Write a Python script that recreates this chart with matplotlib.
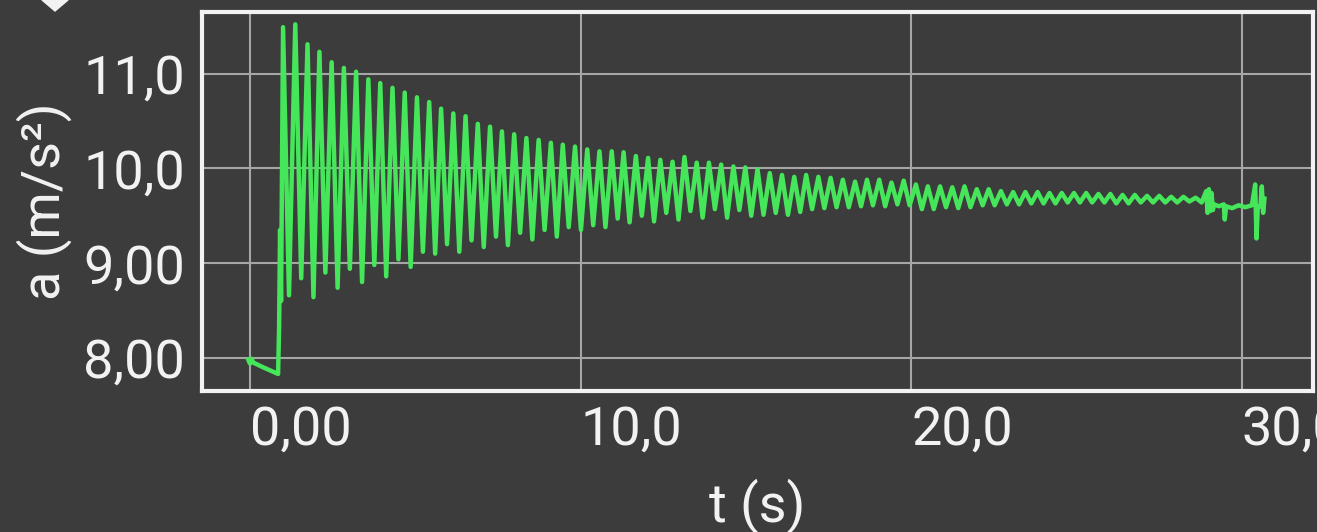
import matplotlib.pyplot as plt
from matplotlib.patches import Polygon

plt.rcParams['font.family'] = ['Roboto', 'DejaVu Sans']

# resting phase before release
start_t = [-0.05, 0.00, 0.05, 0.10, 0.40, 0.85, 0.88, 0.91, 0.94]
start_a = [7.98, 7.94, 7.99, 7.95, 7.90, 7.83, 8.30, 9.35, 8.60]

# oscillation maxima
peak_t = [1.00, 1.37, 1.74, 2.10, 2.47, 2.84, 3.21, 3.58, 3.94, 4.31,
          4.68, 5.05, 5.42, 5.78, 6.15, 6.52, 6.89, 7.26, 7.62, 7.99,
          8.36, 8.73, 9.10, 9.46, 9.83, 10.20, 10.57, 10.94, 11.30, 11.67,
          12.04, 12.41, 12.78, 13.14, 13.51, 13.88, 14.25, 14.62, 14.98, 15.35,
          15.72, 16.09, 16.46, 16.82, 17.19, 17.56, 17.93, 18.30, 18.66, 19.03,
          19.40, 19.77, 20.14, 20.50, 20.87, 21.24, 21.61, 21.98, 22.34, 22.71,
          23.08, 23.45, 23.82, 24.18, 24.55, 24.92, 25.29, 25.66, 26.02, 26.39,
          26.76, 27.13, 27.50, 27.86, 28.23, 28.60]
peak_a = [11.49, 11.52, 11.31, 11.23, 11.12, 11.06, 11.02, 10.94, 10.90, 10.85,
          10.80, 10.75, 10.70, 10.63, 10.58, 10.55, 10.47, 10.44, 10.39, 10.36,
          10.32, 10.30, 10.27, 10.25, 10.23, 10.20, 10.18, 10.18, 10.17, 10.13,
          10.11, 10.09, 10.07, 10.12, 10.06, 10.06, 10.04, 10.02, 10.01, 9.99,
          9.95, 9.93, 9.91, 9.93, 9.91, 9.90, 9.88, 9.86, 9.88, 9.88,
          9.85, 9.87, 9.83, 9.81, 9.81, 9.80, 9.81, 9.78, 9.78, 9.76,
          9.75, 9.75, 9.75, 9.74, 9.74, 9.74, 9.74, 9.73, 9.73, 9.72,
          9.72, 9.71, 9.71, 9.70, 9.70, 9.69]

# oscillation minima (one after each maximum)
trough_t = [1.18, 1.55, 1.92, 2.28, 2.65, 3.02, 3.39, 3.76, 4.12, 4.49,
            4.86, 5.23, 5.60, 5.96, 6.33, 6.70, 7.07, 7.44, 7.80, 8.17,
            8.54, 8.91, 9.28, 9.64, 10.01, 10.38, 10.75, 11.12, 11.48, 11.85,
            12.22, 12.59, 12.96, 13.32, 13.69, 14.06, 14.43, 14.80, 15.16, 15.53,
            15.90, 16.27, 16.64, 17.00, 17.37, 17.74, 18.11, 18.48, 18.84, 19.21,
            19.58, 19.95, 20.32, 20.68, 21.05, 21.42, 21.79, 22.16, 22.52, 22.89,
            23.26, 23.63, 24.00, 24.36, 24.73, 25.10, 25.47, 25.84, 26.20, 26.57,
            26.94, 27.31, 27.68, 28.04, 28.41, 28.78]
trough_a = [8.66, 8.84, 8.64, 8.90, 8.74, 8.94, 8.80, 8.98, 8.86, 9.04,
            8.96, 9.12, 9.10, 9.20, 9.12, 9.24, 9.17, 9.28, 9.19, 9.32,
            9.25, 9.35, 9.28, 9.38, 9.35, 9.40, 9.38, 9.47, 9.43, 9.50,
            9.44, 9.53, 9.46, 9.55, 9.48, 9.57, 9.48, 9.56, 9.50, 9.51,
            9.53, 9.51, 9.54, 9.57, 9.58, 9.59, 9.59, 9.60, 9.61, 9.60,
            9.62, 9.61, 9.57, 9.57, 9.59, 9.58, 9.59, 9.61, 9.61, 9.62,
            9.62, 9.63, 9.63, 9.63, 9.64, 9.64, 9.64, 9.64, 9.63, 9.63,
            9.64, 9.64, 9.64, 9.64, 9.65, 9.64]

# noisy tail when the phone was picked up
end_t = [28.92, 28.96, 29.00, 29.04, 29.08, 29.12, 29.16, 29.30, 29.45, 29.48,
         29.52, 29.70, 29.90, 30.10, 30.30, 30.40, 30.44, 30.48, 30.56, 30.60,
         30.64, 30.68]
end_a = [9.76, 9.53, 9.78, 9.55, 9.74, 9.56, 9.62, 9.60, 9.62, 9.46,
         9.60, 9.58, 9.61, 9.59, 9.61, 9.83, 9.26, 9.60, 9.60, 9.81,
         9.53, 9.68]

x_ticks = [0, 10, 20, 30]
x_labels = ['0,00', '10,0', '20,0', '30,0']
y_ticks = [8, 9, 10, 11]
y_labels = ['8,00', '9,00', '10,0', '11,0']

t = list(start_t)
a = list(start_a)
for pt, pa, tt, ta in zip(peak_t, peak_a, trough_t, trough_a):
    t += [pt, tt]
    a += [pa, ta]
t += end_t
a += end_a

bg = '#3c3c3c'
fg = '#f2f2f2'

fig = plt.figure(figsize=(13.17, 5.32), dpi=100, facecolor=bg)
ax = fig.add_axes([0.1534, 0.265, 0.8436, 0.7124])
ax.set_facecolor(bg)

ax.plot(t, a, color='#46e65a', linewidth=3.2, solid_joinstyle='round')

ax.set_xlim(-1.45, 32.15)
ax.set_ylim(7.65, 11.65)
ax.set_xticks(x_ticks)
ax.set_xticklabels(x_labels, ha='left')
ax.set_yticks(y_ticks)
ax.set_yticklabels(y_labels)
ax.tick_params(length=0, colors=fg, labelsize=39)
ax.tick_params(axis='x', pad=10)
ax.tick_params(axis='y', pad=12)
ax.grid(True, color='#a6a6a6', linewidth=1.5)

for s in ax.spines.values():
    s.set_color(fg)
    s.set_linewidth(3)

ax.set_xlabel('t (s)', color=fg, fontsize=39, labelpad=16)
ax.set_ylabel('a (m/s²)', color=fg, fontsize=39, labelpad=8)

W, H = 1317, 532
dia = [(42, 0), (55, -13), (68, 0), (55, 11)]
fig.patches.append(Polygon([(x / W, 1 - y / H) for x, y in dia],
                           closed=True, color=fg, transform=fig.transFigure))

fig.savefig('out.png', dpi=100, facecolor=bg)
